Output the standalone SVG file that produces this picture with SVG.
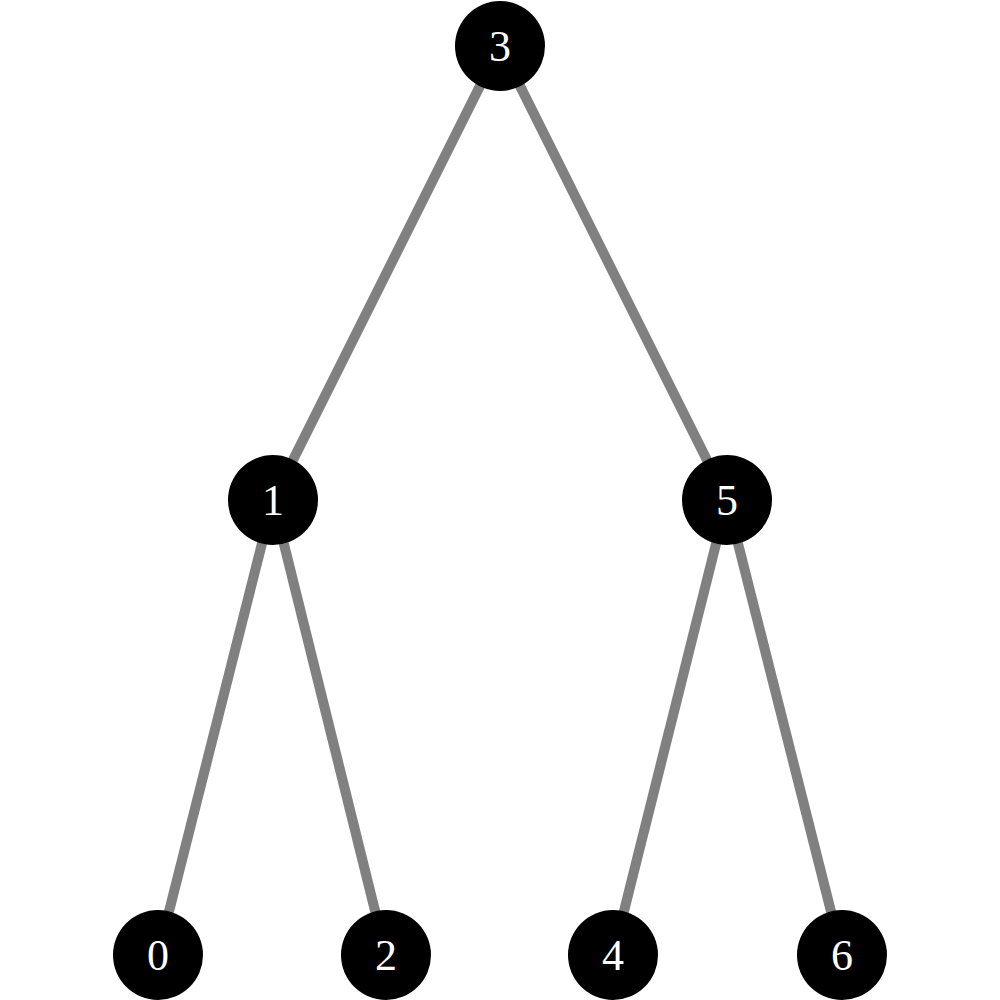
<svg xmlns="http://www.w3.org/2000/svg" width="1000" height="1000" viewBox="0 0 1000 1000">
<style>
.edge{stroke:#808080;stroke-width:10;fill:none}
.node circle{fill:#000}
.node text{fill:#fff;font-family:"Liberation Serif","DejaVu Serif",serif;font-size:44px;text-anchor:middle}
</style>
<rect width="1000" height="1000" fill="#fff"/>
<g id="edges">
<line class="edge" x1="500" y1="46" x2="273" y2="500"/>
<line class="edge" x1="500" y1="46" x2="727" y2="500"/>
<line class="edge" x1="273" y1="500" x2="158" y2="955"/>
<line class="edge" x1="273" y1="500" x2="386" y2="955"/>
<line class="edge" x1="727" y1="500" x2="613" y2="955"/>
<line class="edge" x1="727" y1="500" x2="842" y2="955"/>
</g>
<g id="n3" class="node"><circle cx="500" cy="46" r="45"/><text x="500" y="61">3</text></g>
<g id="n1" class="node"><circle cx="273" cy="500" r="45"/><text x="273" y="515">1</text></g>
<g id="n5" class="node"><circle cx="727" cy="500" r="45"/><text x="727" y="515">5</text></g>
<g id="n0" class="node"><circle cx="158" cy="955" r="45"/><text x="158" y="970">0</text></g>
<g id="n2" class="node"><circle cx="386" cy="955" r="45"/><text x="386" y="970">2</text></g>
<g id="n4" class="node"><circle cx="613" cy="955" r="45"/><text x="613" y="970">4</text></g>
<g id="n6" class="node"><circle cx="842" cy="955" r="45"/><text x="842" y="970">6</text></g>
</svg>
